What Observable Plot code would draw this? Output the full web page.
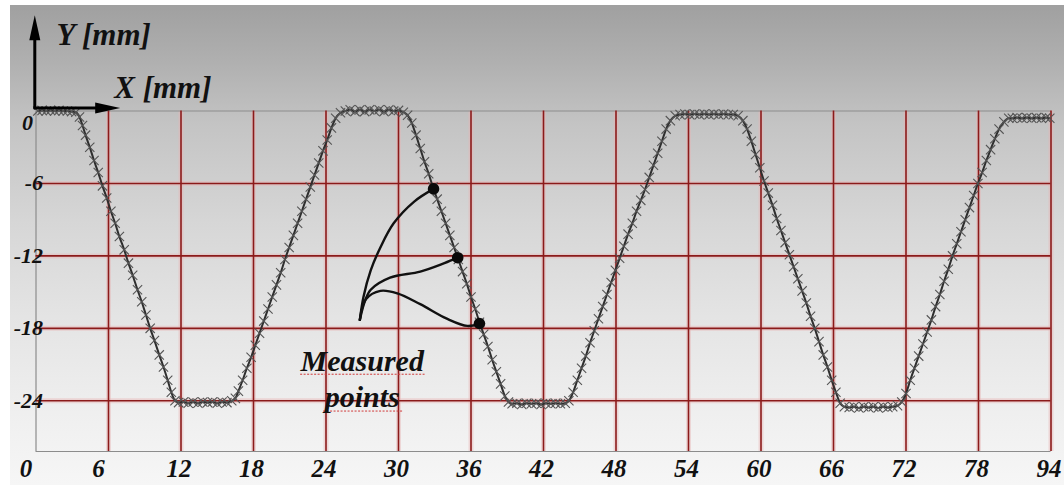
<!DOCTYPE html>
<html><head><meta charset="utf-8">
<script src="https://cdn.jsdelivr.net/npm/d3@7"></script>
<script src="https://cdn.jsdelivr.net/npm/@observablehq/plot@0.6"></script>
<style>
html,body{margin:0;padding:0;background:#fff;width:1064px;height:485px;overflow:hidden;}
#bg{position:absolute;left:10px;top:5px;width:1054px;height:480px;
  background:linear-gradient(to bottom,#a0a0a0 0%,#b0b0b0 12%,#c4c4c4 25%,#d6d6d6 45%,#e4e4e4 65%,#efefef 85%,#f6f6f6 100%);}
#chart{position:absolute;left:0;top:0;}
</style></head><body><div id="bg"></div><div id="chart"></div>
<script>
// ---- data (mm) ----
const xTicks = [0, 6, 12, 18, 24, 30, 36, 42, 48, 54, 60, 66, 72, 78, 84];
const xTickLabels = ["0","6","12","18","24","30","36","42","48","54","60","66","72","78","94"];
const yTicks = [0, -6, -12, -18, -24];
const yTickLabels = ["0","-6","-12","-18","-24"];

const startFlat = [[0.15,0.0],[0.5,0.05],[0.85,0.0],[1.2,0.05],[1.55,0.0],[1.9,0.05],[2.25,0.0],[2.6,0.0],[2.95,-0.05],[3.3,-0.1]];
const descent1 = [[3.6,-0.5],[3.85,-1.2],[4.1,-2.0],[4.45,-3.0],[4.8,-4.1],[5.15,-5.1],[5.5,-6.2],[5.85,-7.2],[6.2,-8.3],[6.55,-9.3],[6.9,-10.4],[7.3,-11.5],[7.65,-12.6],[8.0,-13.6],[8.4,-14.8],[8.75,-15.8],[9.1,-16.9],[9.45,-18.0],[9.8,-19.0],[10.2,-20.2],[10.55,-21.2],[10.9,-22.3],[11.2,-23.3],[11.5,-24.0]];
const bottom1 = [[11.8,-24.15],[12.2,-24.1],[12.6,-24.2],[13.0,-24.1],[13.4,-24.2],[13.8,-24.1],[14.2,-24.15],[14.6,-24.1],[15.0,-24.2],[15.4,-24.1],[15.8,-24.15],[16.2,-24.0],[16.5,-23.8]];
const rise1 = [[16.75,-23.2],[17.1,-22.3],[17.45,-21.3],[17.8,-20.4],[18.15,-19.4],[18.5,-18.4],[18.85,-17.4],[19.2,-16.4],[19.55,-15.4],[19.9,-14.4],[20.25,-13.4],[20.6,-12.3],[20.95,-11.3],[21.3,-10.3],[21.65,-9.3],[22.0,-8.3],[22.35,-7.3],[22.7,-6.3],[23.05,-5.3],[23.4,-4.3],[23.75,-3.3],[24.1,-2.4],[24.45,-1.4],[24.8,-0.6],[25.2,-0.15]];
const top1 = [[25.6,0.0],[26.0,0.1],[26.4,-0.05],[26.8,0.1],[27.2,-0.05],[27.6,0.1],[28.0,0.0],[28.4,0.1],[28.8,-0.05],[29.2,0.1],[29.6,0.0],[30.0,0.05],[30.4,-0.1]];
const descent2 = [[30.75,-0.35],[31.1,-1.0],[31.45,-2.0],[31.8,-3.1],[32.15,-4.2],[32.5,-5.2],[32.85,-6.3],[33.2,-7.3],[33.55,-8.3],[33.9,-9.3],[34.25,-10.3],[34.6,-11.3],[34.95,-12.3],[35.3,-13.3],[35.65,-14.3],[36.0,-15.4],[36.35,-16.4],[36.7,-17.5],[37.05,-18.5],[37.4,-19.5],[37.75,-20.6],[38.1,-21.6],[38.45,-22.6],[38.8,-23.6],[39.1,-24.1]];
const bottom2 = [[39.4,-24.25],[39.8,-24.2],[40.2,-24.3],[40.6,-24.2],[41.0,-24.25],[41.4,-24.2],[41.8,-24.3],[42.2,-24.2],[42.6,-24.25],[43.0,-24.2],[43.4,-24.25],[43.8,-24.2],[44.1,-24.0]];
const rise2 = [[44.45,-23.3],[44.8,-22.3],[45.15,-21.3],[45.5,-20.3],[45.85,-19.2],[46.2,-18.2],[46.55,-17.2],[46.9,-16.2],[47.25,-15.2],[47.6,-14.2],[47.95,-13.2],[48.3,-12.2],[48.65,-11.2],[49.0,-10.2],[49.35,-9.3],[49.7,-8.3],[50.05,-7.4],[50.4,-6.5],[50.75,-5.5],[51.1,-4.5],[51.45,-3.5],[51.8,-2.5],[52.15,-1.5],[52.5,-0.8],[52.9,-0.4]];
const top2 = [[53.3,-0.3],[53.7,-0.25],[54.1,-0.3],[54.5,-0.25],[54.9,-0.3],[55.3,-0.25],[55.7,-0.3],[56.1,-0.25],[56.5,-0.3],[56.9,-0.25],[57.3,-0.3],[57.7,-0.3],[58.1,-0.4]];
const descent3 = [[58.5,-0.8],[58.85,-1.5],[59.2,-2.5],[59.55,-3.6],[59.9,-4.7],[60.25,-5.8],[60.6,-6.8],[60.95,-7.8],[61.3,-8.9],[61.65,-9.9],[62.0,-10.9],[62.35,-11.9],[62.7,-12.9],[63.05,-13.9],[63.4,-14.9],[63.75,-15.9],[64.1,-17.0],[64.45,-18.0],[64.8,-19.1],[65.15,-20.2],[65.5,-21.2],[65.85,-22.3],[66.2,-23.3],[66.55,-24.2]];
const bottom3 = [[66.9,-24.5],[67.3,-24.55],[67.7,-24.5],[68.1,-24.6],[68.5,-24.5],[68.9,-24.55],[69.3,-24.5],[69.7,-24.6],[70.1,-24.5],[70.5,-24.55],[70.9,-24.5],[71.3,-24.4]];
const rise3 = [[71.65,-24.1],[72.0,-23.4],[72.35,-22.3],[72.7,-21.3],[73.05,-20.3],[73.4,-19.3],[73.75,-18.3],[74.1,-17.3],[74.45,-16.2],[74.8,-15.2],[75.15,-14.1],[75.5,-13.1],[75.85,-12.0],[76.2,-11.0],[76.55,-10.0],[76.9,-9.0],[77.25,-8.0],[77.6,-7.0],[77.95,-6.0],[78.3,-5.1],[78.65,-4.1],[79.0,-3.2],[79.35,-2.3],[79.7,-1.5],[80.1,-0.9],[80.5,-0.6]];
const topEnd = [[80.8,-0.6],[81.2,-0.55],[81.6,-0.6],[82.0,-0.55],[82.4,-0.6],[82.8,-0.55],[83.2,-0.6],[83.6,-0.55],[83.9,-0.6]];

const measuredPoints = [[32.9,-6.45],[34.9,-12.15],[36.7,-17.6]];
const leader1 = [[26.8,-17.3],[27.1,-15.4],[27.7,-13.2],[28.5,-11.3],[29.6,-9.3],[31.3,-7.5],[32.9,-6.45]];
const leader2 = [[26.8,-17.3],[27.2,-15.8],[27.7,-14.8],[29.3,-13.8],[31.8,-13.3],[33.8,-12.6],[34.9,-12.15]];
const leader3 = [[26.8,-17.3],[27.3,-15.6],[28.5,-14.9],[29.9,-15.1],[31.8,-16.0],[34.0,-17.2],[35.7,-17.8],[36.7,-17.6]];
const noteLines = ["Measured", "points"];

const profile = [...startFlat, ...descent1, ...bottom1, ...rise1, ...top1, ...descent2, ...bottom2, ...rise2, ...top2, ...descent3, ...bottom3, ...rise3, ...topEnd];

// ---- chart ----
const X = d => d[0], Y = d => d[1];
const gridRed = "#8b1a1a";
const yMin = -28.2;
const headUp = {draw(ctx){ ctx.moveTo(0,-25); ctx.lineTo(5.5,0); ctx.lineTo(-5.5,0); ctx.closePath(); }};
const txt = {fontWeight: "bold", fontStyle: "italic", fill: "#111", fontFamily: "Liberation Serif"};
const oneDigit = (d, i) => xTickLabels[i].length === 1;

const plot = Plot.plot({
  width: 1064, height: 485,
  marginLeft: 35.5, marginRight: 13.5, marginTop: 110.5, marginBottom: 34,
  x: {domain: [0, 84], axis: null},
  y: {domain: [yMin, 0], axis: null},
  style: {background: "transparent", overflow: "visible"},
  marks: [
    // pink glow under grid
    Plot.ruleX(xTicks.slice(1), {y1: yMin, y2: 0, stroke: "#e7b3b3", strokeWidth: 5, strokeOpacity: 0.45}),
    Plot.ruleY(yTicks.slice(1), {x1: 0, x2: 84, stroke: "#e7b3b3", strokeWidth: 5, strokeOpacity: 0.45}),
    // frame
    Plot.ruleX([0], {y1: yMin, y2: 0, stroke: "#8c8c8c", strokeWidth: 1.2}),
    Plot.ruleY([0, yMin], {x1: 0, x2: 84, stroke: "#8c8c8c", strokeWidth: 1.2}),
    // red grid
    Plot.ruleX(xTicks.slice(1), {y1: yMin, y2: 0, stroke: gridRed, strokeWidth: 1.6}),
    Plot.ruleY(yTicks.slice(1), {x1: 0, x2: 84, stroke: gridRed, strokeWidth: 1.6}),
    // tick labels
    Plot.text(xTicks, Plot.filter(oneDigit, {x: d => d, text: (d, i) => xTickLabels[i], frameAnchor: "bottom",
      lineAnchor: "middle", dy: 17, dx: -10, fontSize: 25, ...txt})),
    Plot.text(xTicks, Plot.filter((d, i) => !oneDigit(d, i), {x: d => d, text: (d, i) => xTickLabels[i], frameAnchor: "bottom",
      lineAnchor: "middle", dy: 17, dx: -2, fontSize: 25, ...txt})),
    Plot.text(yTicks.slice(1), {x: 0, y: d => d, text: (d, i) => yTickLabels[i + 1], textAnchor: "end",
      dx: 7, fontSize: 22, ...txt}),
    Plot.text(yTicks.slice(0, 1), {x: 0, y: d => d, text: (d, i) => yTickLabels[i], textAnchor: "end",
      dx: -3, dy: 12, fontSize: 22, ...txt}),
    // profile
    Plot.line(profile, {x: X, y: Y, curve: "monotone-x", stroke: "#2e2e2e", strokeWidth: 2}),
    Plot.dot(profile, {x: X, y: Y, symbol: "times", r: 4.3, stroke: "#555", strokeWidth: 1.1}),
    // annotation
    Plot.line(leader1, {x: X, y: Y, curve: "catmull-rom", stroke: "#111", strokeWidth: 2.4}),
    Plot.line(leader2, {x: X, y: Y, curve: "catmull-rom", stroke: "#111", strokeWidth: 2.4}),
    Plot.line(leader3, {x: X, y: Y, curve: "catmull-rom", stroke: "#111", strokeWidth: 2.4}),
    Plot.dot(measuredPoints, {x: X, y: Y, r: 5.8, fill: "#0a0a0a"}),
    Plot.ruleY([-21.8], {x1: 21.9, x2: 32.2, stroke: "#d03a3a", strokeWidth: 1, strokeDasharray: "2,1.5"}),
    Plot.ruleY([-24.85], {x1: 23.8, x2: 30.4, stroke: "#d03a3a", strokeWidth: 1, strokeDasharray: "2,1.5"}),
    Plot.text(noteLines, {x: 27.0, y: (d, i) => (i === 0 ? -20.7 : -23.75), text: d => d, fontSize: 30, ...txt}),
    // axis arrows
    Plot.line([[-0.1, 0.25], [-0.1, 6.0]], {x: X, y: Y, stroke: "#000", strokeWidth: 3}),
    Plot.line([[-0.1, 0.25], [5.1, 0.25]], {x: X, y: Y, stroke: "#000", strokeWidth: 3}),
    Plot.dot([[-0.1, 5.85]], {x: X, y: Y, symbol: headUp, fill: "#000", stroke: "none"}),
    Plot.dot([[4.9, 0.25]], {x: X, y: Y, symbol: headUp, rotate: 90, fill: "#000", stroke: "none"}),
    Plot.text(["Y [mm]"], {x: 5.6, y: 6.3, text: d => d, fontSize: 31, ...txt}),
    Plot.text(["X [mm]"], {x: 10.5, y: 1.9, text: d => d, fontSize: 31, ...txt})
  ]
});
document.getElementById("chart").appendChild(plot);
</script></body></html>
